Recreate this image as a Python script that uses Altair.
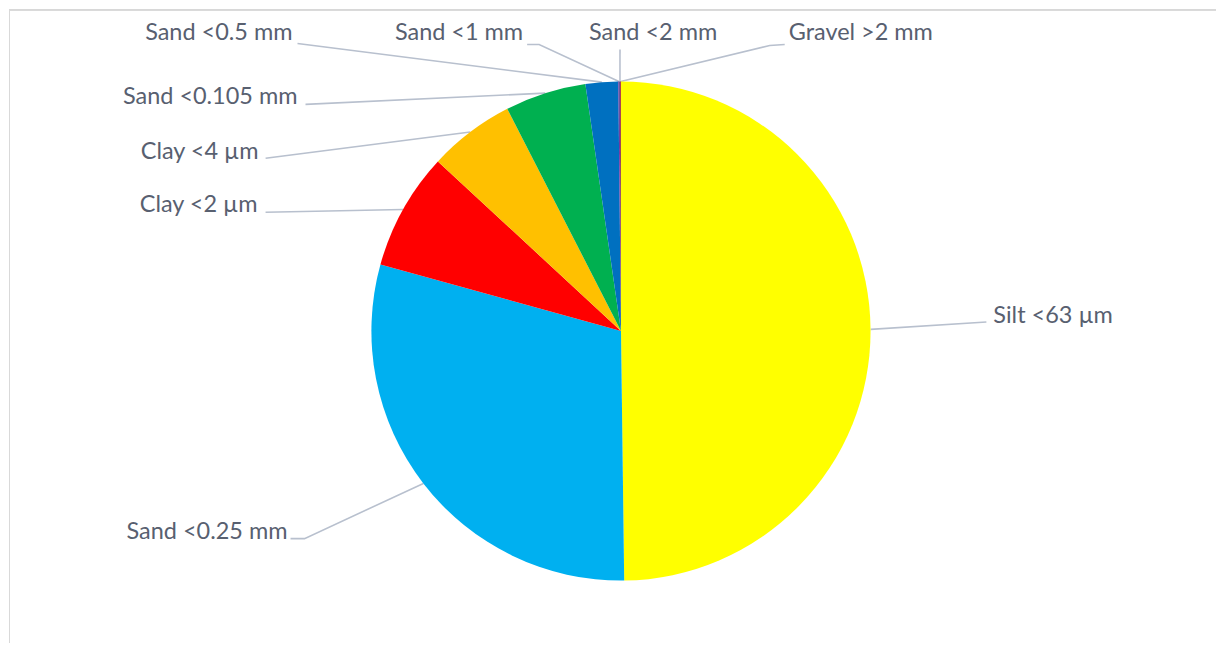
import math
import altair as alt
import pandas as pd

# ---- data (percent of sample) ----
categories = ["Silt <63 µm", "Sand <0.25 mm", "Clay <2 µm", "Clay <4 µm",
              "Sand <0.105 mm", "Sand <0.5 mm", "Sand <1 mm", "Sand <2 mm",
              "Gravel >2 mm"]
values = [49.8, 29.5, 7.6, 5.58, 5.25, 2.11, 0.08, 0.05, 0.04]
colors = ["#FFFF00", "#00B0F0", "#FF0000", "#FFC000", "#00B050",
          "#0070C0", "#7030A0", "#002060", "#C00000"]

# ---- layout (plot-area pixels) ----
W, H = 1209, 634
CX, CY, R = 613, 322, 250
# label: (text x, text baseline y, align, attach x, attach y, elbow x, elbow y)
label_layout = {
    "Silt <63 µm":    (986, 314, "left", 979, 313, 979, 313),
    "Sand <0.25 mm":  (279, 530, "right", 282, 530, 296, 530),
    "Clay <2 µm":     (249, 203, "right", 257, 203, 257, 203),
    "Clay <4 µm":     (250, 150, "right", 257, 149, 257, 149),
    "Sand <0.105 mm": (289, 95, "right", 297, 95, 297, 95),
    "Sand <0.5 mm":   (284, 31, "right", 289, 34, 289, 34),
    "Sand <1 mm":     (515, 31, "right", 519, 35, 531, 35),
    "Sand <2 mm":     (581, 31, "left", 612, 40, 612, 40),
    "Gravel >2 mm":   (781, 31, "left", 777, 35, 762, 36),
}

df = pd.DataFrame({"category": categories, "value": values,
                   "order": list(range(len(categories)))})

total = sum(values)
cum = 0.0
line_rows, text_rows = [], []
for c, v in zip(categories, values):
    mid = (cum + v / 2) / total * 2 * math.pi
    cum += v
    ex = CX + R * math.sin(mid)
    ey = CY - R * math.cos(mid)
    tx, ty, al, ax, ay, bx, by = label_layout[c]
    line_rows += [
        {"category": c, "seq": 0, "px": ax, "py": ay},
        {"category": c, "seq": 1, "px": bx, "py": by},
        {"category": c, "seq": 2, "px": ex, "py": ey},
    ]
    text_rows.append({"category": c, "tx": tx, "ty": ty, "align": al})

lines_df = pd.DataFrame(line_rows)
text_df = pd.DataFrame(text_rows)

pie = alt.Chart(df).mark_arc(outerRadius=R, stroke=None).encode(
    theta=alt.Theta("value:Q", stack=True),
    order=alt.Order("order:Q"),
    color=alt.Color("category:N", scale=alt.Scale(domain=categories, range=colors),
                    legend=None),
    x=alt.value(CX),
    y=alt.value(CY),
)

leaders = alt.Chart(lines_df).mark_line(color="#B8C0CE", strokeWidth=1.6).encode(
    x=alt.X("px:Q", scale=None, axis=None),
    y=alt.Y("py:Q", scale=None, axis=None),
    detail="category:N",
    order="seq:Q",
)

def text_layer(al):
    return alt.Chart(text_df).transform_filter(
        alt.datum.align == al
    ).mark_text(align=al, baseline="alphabetic", font="Lato", fontSize=23.5,
                color="#586070").encode(
        x=alt.X("tx:Q", scale=None, axis=None),
        y=alt.Y("ty:Q", scale=None, axis=None),
        text="category:N",
    )

border_top = alt.Chart(df).mark_rule(color="#D9D9D9", strokeWidth=1).encode(
    x=alt.value(0), x2=alt.value(W), y=alt.value(0.5))
border_left = alt.Chart(df).mark_rule(color="#D9D9D9", strokeWidth=1).encode(
    x=alt.value(0.5), y=alt.value(0), y2=alt.value(H))

chart = alt.layer(border_top, border_left, leaders, pie,
                  text_layer("right"), text_layer("left")).properties(
    width=W, height=H, padding=0
).configure_view(stroke=None)

chart.save("out.html", embed_options={"renderer": "svg", "actions": False})
